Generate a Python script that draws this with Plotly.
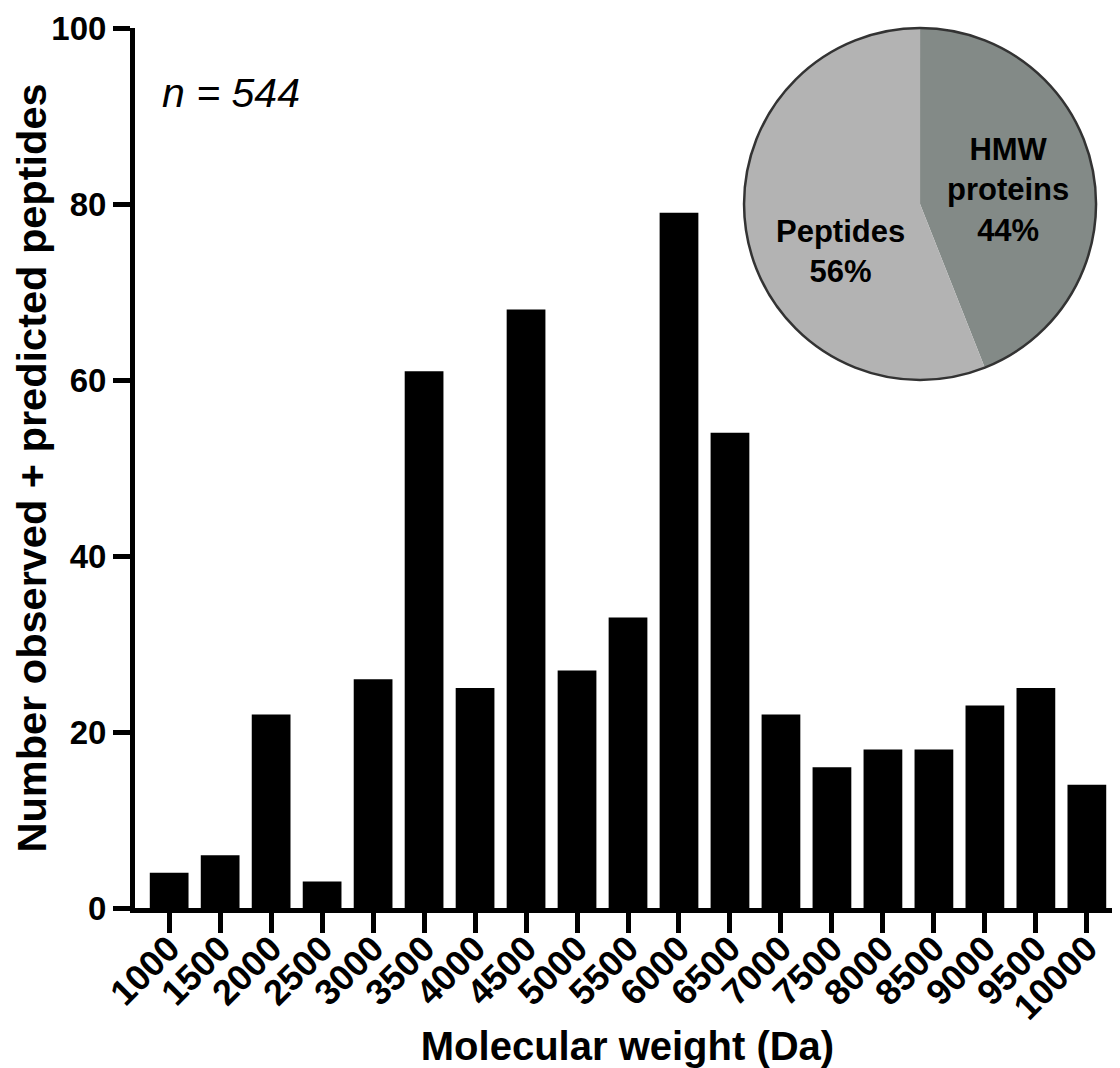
import plotly.graph_objects as go

# Data
mw_labels = ["1000", "1500", "2000", "2500", "3000", "3500", "4000", "4500", "5000", "5500",
             "6000", "6500", "7000", "7500", "8000", "8500", "9000", "9500", "10000"]
counts = [4, 6, 22, 3, 26, 61, 25, 68, 27, 33, 79, 54, 22, 16, 18, 18, 23, 25, 14]
y_ticks = [0, 20, 40, 60, 80, 100]

pie_labels = ["HMW proteins", "Peptides"]
pie_text = ["HMW<br>proteins", "Peptides"]
pie_values = [44, 56]
pie_colors = ["#838A87", "#B3B3B3"]

FONT = "Liberation Sans, Arial, sans-serif"
PIE_DOMAIN = dict(x=[0.617, 0.977], y=[0.6, 1.0])

fig = go.Figure()
fig.add_trace(go.Bar(
    x=mw_labels, y=counts,
    marker=dict(color="#000000", line=dict(width=0)),
    width=0.76,
    showlegend=False,
))

fig.add_trace(go.Pie(
    labels=pie_labels, values=pie_values,
    marker=dict(colors=pie_colors, line=dict(color="rgba(0,0,0,0)", width=0)),
    sort=False, direction="clockwise", rotation=0,
    textinfo="none", hoverinfo="label+percent",
    domain=PIE_DOMAIN,
    showlegend=False,
))
# outer outline of the pie
fig.add_trace(go.Pie(
    labels=["all"], values=[sum(pie_values)],
    marker=dict(colors=["rgba(0,0,0,0)"], line=dict(color="#333333", width=2.5)),
    textinfo="none", hoverinfo="skip",
    domain=PIE_DOMAIN,
    showlegend=False,
))

# pie labels (positions in page pixels, converted to plot-area fractions)
pie_label_pos = [(1008, 190), (840, 251)]
annotations = []
for txt, v, (px, py) in zip(pie_text, pie_values, pie_label_pos):
    annotations.append(dict(
        text=f"{txt}<br>{v}%", x=(px - 135) / 985, y=(908 - py) / 880,
        xref="paper", yref="paper", xanchor="center", yanchor="middle", showarrow=False,
        font=dict(family=FONT, size=31, color="black", weight="bold"),
        align="center",
    ))
annotations.append(dict(
    text=f"<i>n</i> = {sum(counts)}", x=(160 - 135) / 985, y=(908 - 93) / 880,
    xref="paper", yref="paper", xanchor="left", yanchor="middle", showarrow=False,
    font=dict(family=FONT, size=41, color="black", style="italic"),
))

# the page body adds an 8px offset; size the figure to fill the rest of the window
fig.update_layout(
    width=1112, height=1060,
    margin=dict(l=127, r=0, t=20, b=160),
    plot_bgcolor="white", paper_bgcolor="white",
    bargap=0.24,
    annotations=annotations,
    font=dict(family=FONT, color="black"),
)
fig.update_xaxes(
    type="category", range=[-0.67, 18.65], automargin=False,
    showline=True, linecolor="black", linewidth=5,
    ticks="outside", ticklen=20, tickwidth=5, tickcolor="black",
    tickangle=-45, tickfont=dict(family=FONT, size=36, weight="bold", color="black"),
    ticklabelstandoff=-20,
    showgrid=False, zeroline=False,
    title=dict(text="Molecular weight (Da)", font=dict(family=FONT, size=40, weight="bold", color="black"), standoff=10),
)
fig.update_yaxes(
    range=[0, 100], tickvals=y_ticks, automargin=False,
    showline=True, linecolor="black", linewidth=5,
    ticks="outside", ticklen=17, tickwidth=5, tickcolor="black",
    tickfont=dict(family=FONT, size=33, weight="bold", color="black"),
    showgrid=False, zeroline=False,
    title=dict(text="Number observed + predicted peptides", font=dict(family=FONT, size=41.5, weight="bold", color="black"), standoff=15),
)

fig.write_html("out.html")
